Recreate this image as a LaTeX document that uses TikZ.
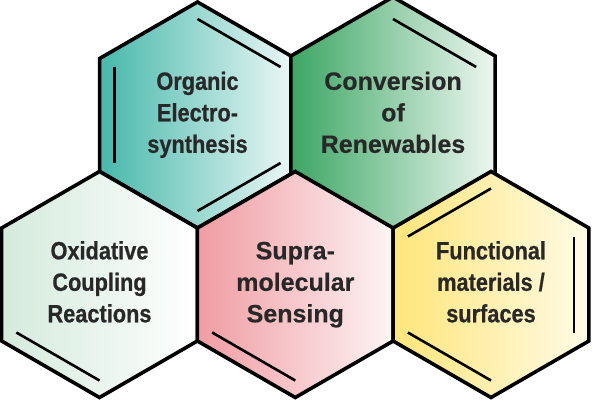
\documentclass[tikz,border=0pt]{standalone}
\usepackage{fontspec}
\setmainfont{Liberation Sans}
\newfontfamily\narrowsans{Liberation Sans Bold}[FakeStretch=0.87,FakeBold=0.6]
\newfontfamily\widesans{Liberation Sans Bold}[FakeBold=0.4]
\usepackage{tikz}
\usetikzlibrary{shapes.geometric,calc}
\usepackage{xcolor}
\definecolor{labelgray}{RGB}{40,40,40}
\definecolor{tealdark}{RGB}{70,184,170}
\definecolor{tealtint}{RGB}{238,248,247}
\definecolor{greendark}{RGB}{60,166,100}
\definecolor{greentint}{RGB}{238,247,241}
\definecolor{mintdark}{RGB}{212,234,220}
\definecolor{pinkdark}{RGB}{240,156,162}
\definecolor{pinktint}{RGB}{253,244,245}
\definecolor{yellowdark}{RGB}{255,229,122}
\definecolor{yellowtint}{RGB}{255,251,230}

\begin{document}
\begin{tikzpicture}[x=1pt,y=1pt,
    hexa/.style={regular polygon,regular polygon sides=6,shape border rotate=30,
                 minimum size=226pt,inner sep=0pt,draw=black,line width=3.6pt,
                 text=labelgray,align=center},
    widetxt/.style={font=\fontsize{25}{31.5}\selectfont\widesans},
    narrowtxt/.style={font=\fontsize{25}{31.5}\selectfont\narrowsans},
    bond/.style={draw=black,line width=2.6pt}]
    \useasboundingbox (0,0) rectangle (593,405);

    % top row
    \node[hexa,narrowtxt,left color=tealdark,right color=tealtint] (org) at (197.5,290)
        {\strut Organic\\\strut Electro-\\\strut synthesis};
    \node[hexa,widetxt,left color=greendark,right color=greentint] (conv) at (393,290)
        {\strut Conversion\\\strut of\\\strut Renewables};
    % bottom row
    \node[hexa,narrowtxt,left color=mintdark,right color=white] (oxid) at (99.5,120.5)
        {\strut Oxidative\\\strut Coupling\\\strut Reactions};
    \node[hexa,widetxt,left color=pinkdark,right color=pinktint] (supra) at (295.3,120.5)
        {\strut Supra-\\\strut molecular\\\strut Sensing};
    \node[hexa,narrowtxt,left color=yellowdark,right color=yellowtint] (func) at (491,120.5)
        {\strut Functional\\\strut materials /\\\strut surfaces};

    % inner double bonds
    \draw[bond] ($(org)+(150:96)$) -- ($(org)+(-150:96)$);
    \draw[bond] ($(org)+(90:96)$) -- ($(org)+(30:96)$);
    \draw[bond] ($(org)+(-30:96)$) -- ($(org)+(-90:96)$);
    \draw[bond] ($(conv)+(90:96)$) -- ($(conv)+(30:96)$);
    \draw[bond] ($(oxid)+(-150:96)$) -- ($(oxid)+(-90:96)$);
    \draw[bond] ($(supra)+(-150:96)$) -- ($(supra)+(-90:96)$);
    \draw[bond] ($(func)+(150:96)$) -- ($(func)+(90:96)$);
    \draw[bond] ($(func)+(30:96)$) -- ($(func)+(-30:96)$);
    \draw[bond] ($(func)+(-150:96)$) -- ($(func)+(-90:96)$);
\end{tikzpicture}
\end{document}
